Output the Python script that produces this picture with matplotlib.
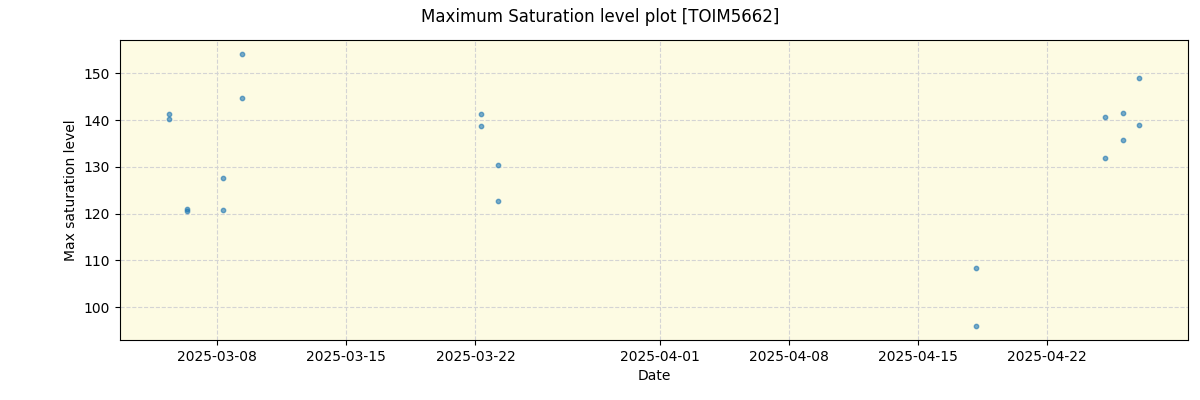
import pandas as pd
import matplotlib
matplotlib.use("Agg")
import matplotlib.pyplot as plt
import matplotlib.dates as mdates

times = [
    "2025-03-05 08:33", "2025-03-05 08:33",
    "2025-03-06 08:15", "2025-03-06 08:20",
    "2025-03-08 06:55", "2025-03-08 06:55",
    "2025-03-09 07:40", "2025-03-09 07:40",
    "2025-03-22 07:03", "2025-03-22 07:03",
    "2025-03-23 05:13", "2025-03-23 05:13",
    "2025-04-18 04:00", "2025-04-18 04:00",
    "2025-04-25 04:05", "2025-04-25 04:05",
    "2025-04-26 03:33", "2025-04-26 03:33",
    "2025-04-27 00:23", "2025-04-27 00:23",
]
max_sat = [
    141.4, 140.3,
    120.6, 121.0,
    127.7, 120.8,
    154.2, 144.8,
    141.4, 138.8,
    130.4, 122.7,
    108.4, 95.9,
    140.7, 131.9,
    141.6, 135.8,
    148.9, 139.0,
]
tick_dates = ["2025-03-08", "2025-03-15", "2025-03-22", "2025-04-01",
              "2025-04-08", "2025-04-15", "2025-04-22"]

df = pd.DataFrame({"time": pd.to_datetime(times), "max_sat": max_sat})

fig = plt.figure(figsize=(12, 4), dpi=100)
ax = fig.add_axes([0.1, 0.15, 0.89, 0.75])
ax.set_facecolor("#fdfbe3")

ax.scatter(df["time"], df["max_sat"], s=10, color="tab:blue", alpha=0.6, zorder=3)

ax.set_xticks(pd.to_datetime(tick_dates))
ax.xaxis.set_major_formatter(mdates.DateFormatter("%Y-%m-%d"))
ax.grid(True, linestyle="--", color="#d4d4d4", linewidth=0.8)

ax.set_xlabel("Date")
ax.set_ylabel("Max saturation level")
fig.suptitle("Maximum Saturation level plot [TOIM5662]", y=0.98)

fig.savefig("out.png", dpi=100)
